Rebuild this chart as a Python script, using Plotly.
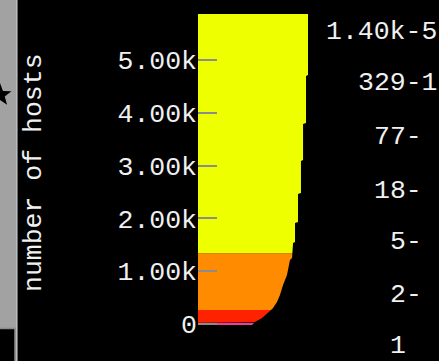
import numpy as np
import plotly.graph_objects as go

# Right-hand edge of the filled profile: host count vs. share of the bar width (%)
profile_hosts = [-25, 32, 108, 203, 298, 412, 545, 734, 925, 1209, 1247, 1530,
                 1550, 1910, 1930, 2460, 2480, 3086, 3106, 3788, 3808, 4700,
                 4719, 5877]
profile_share = [49.1, 51.8, 58.2, 63.6, 68.2, 71.8, 74.5, 77.3, 80.9, 83.6,
                 85.5, 86.4, 88.2, 88.2, 90.9, 90.9, 93.6, 93.6, 95.5, 95.5,
                 98.2, 98.2, 100.0, 100.0]

# Colour bands, bottom to top: lower bound of each band, plus the top of the last one
band_floor = [-25, 20, 260, 1336]
band_top = 5877
band_colors = ["#E8409C", "#FF2200", "#FF8C00", "#EEFF00"]

# Y-axis ticks
tick_vals = [0, 1000, 2000, 3000, 4000, 5000]
tick_text = ["0", "1.00k", "2.00k", "3.00k", "4.00k", "5.00k"]

# Range labels down the right-hand side
range_labels = ["1.40k-5", "329-1", "77-", "18-", "5-", "2-", "1"]

W, H = 439, 361
L, R, T, B = 198, 308, 14, 325  # plot-area edges in pixels
FONT = "Liberation Mono"


def px_x(px):
    return (px - L) / (R - L)


def px_y(py):
    return (B - py) / (B - T)


fig = go.Figure()

bounds = band_floor + [band_top]
for i, color in enumerate(band_colors):
    lo, hi = bounds[i], bounds[i + 1]
    inner = [(h, s) for h, s in zip(profile_hosts, profile_share) if lo < h < hi]
    ys = [lo, lo] + [h for h, _ in inner] + [hi, hi, lo]
    xs = ([0, float(np.interp(lo, profile_hosts, profile_share))]
          + [s for _, s in inner]
          + [float(np.interp(hi, profile_hosts, profile_share)), 0, 0])
    fig.add_trace(go.Scatter(
        x=xs, y=ys, mode="lines", fill="toself", fillcolor=color,
        line=dict(width=0, color=color), hoverinfo="skip", showlegend=False,
    ))

annotations = [
    dict(text="number of hosts", textangle=-90, x=px_x(34), y=px_y(173),
         xref="paper", yref="paper", showarrow=False,
         font=dict(family=FONT, size=26.5, color="#f0f0f0"),
         xanchor="center", yanchor="middle"),
]

label_left = [324, 356, 372, 372, 388, 388, 388]
label_y = [32, 83, 137, 191, 242, 295, 346]
for text, lx, ly in zip(range_labels, label_left, label_y):
    annotations.append(dict(
        text=text, x=px_x(lx), y=px_y(ly), xref="paper", yref="paper",
        showarrow=False, xanchor="left", yanchor="middle",
        font=dict(family=FONT, size=26.5, color="#f0f0f0"),
    ))

# Star icon on the side strip, as a polygon path
ang = np.pi / 2 + np.arange(10) * np.pi / 5
rad = np.where(np.arange(10) % 2 == 0, 12.0, 5.0)
sx = 0.0 + rad * np.cos(ang)
sy = 95.0 - rad * np.sin(ang)
star_path = "M " + " L ".join(f"{px_x(a):.5f},{px_y(b):.5f}" for a, b in zip(sx, sy)) + " Z"

shapes = [
    # grey side strip and its edge
    dict(type="rect", xref="paper", yref="paper", x0=px_x(0), x1=px_x(16),
         y0=px_y(361), y1=px_y(0), fillcolor="#a2a2a2", line=dict(width=0),
         layer="below"),
    dict(type="line", xref="paper", yref="paper", x0=px_x(16.8), x1=px_x(16.8),
         y0=px_y(361), y1=px_y(0), line=dict(color="#c4c4c4", width=1.5)),
    # dark box at the bottom of the strip
    dict(type="rect", xref="paper", yref="paper", x0=px_x(-2), x1=px_x(15),
         y0=px_y(363), y1=px_y(328.5), fillcolor="#000000",
         line=dict(color="#8a8a8a", width=1.5)),
    dict(type="path", xref="paper", yref="paper", path=star_path,
         fillcolor="#000000", line=dict(width=0)),
]

fig.update_layout(
    width=W, height=H,
    margin=dict(l=L, r=W - R, t=T, b=H - B, pad=0),
    paper_bgcolor="#000000", plot_bgcolor="#000000",
    showlegend=False,
    xaxis=dict(visible=False, range=[0, 100], fixedrange=True),
    yaxis=dict(
        range=[-25, band_top], tickmode="array", tickvals=tick_vals,
        ticktext=tick_text, ticks="inside", ticklen=19, tickwidth=2,
        tickcolor="#8c8c8c", showgrid=False, zeroline=False, showline=False,
        tickfont=dict(family=FONT, size=26.5, color="#f0f0f0"),
        layer="above traces", fixedrange=True,
    ),
    annotations=annotations,
    shapes=shapes,
)

fig.write_html("out.html")
